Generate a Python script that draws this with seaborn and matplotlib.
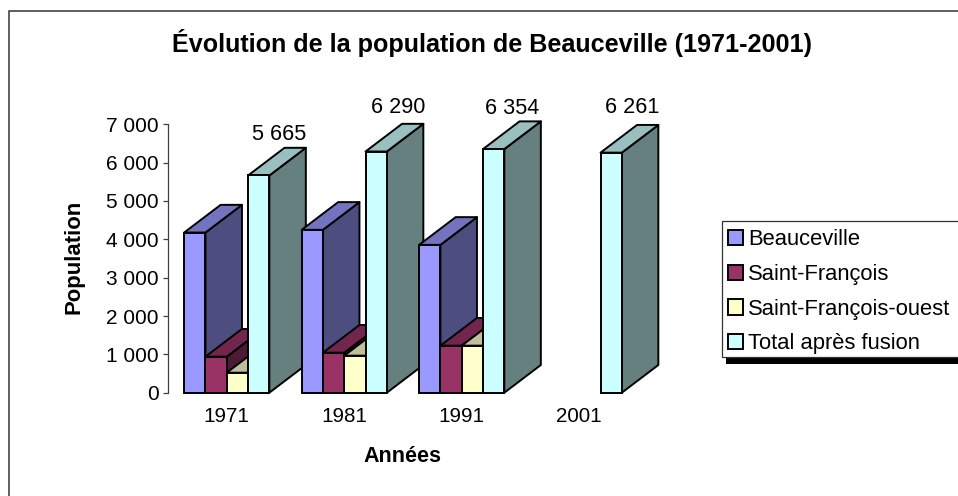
import matplotlib
matplotlib.use("Agg")
import matplotlib.pyplot as plt
from matplotlib.colors import to_rgb
from matplotlib.patches import Polygon, Rectangle
from matplotlib.ticker import FuncFormatter
import numpy as np
import pandas as pd
import seaborn as sns

# ========== DATA ==========
YEARS = ["1971", "1981", "1991", "2001"]
BEAUCEVILLE = [4177, 4248, 3856, np.nan]
SAINT_FRANCOIS = [940, 1044, 1227, np.nan]
SAINT_FRANCOIS_OUEST = [522, 966, 1227, np.nan]
TOTAL = [5665, 6290, 6354, 6261]
SERIES_NAMES = ["Beauceville", "Saint-François", "Saint-François-ouest", "Total après fusion"]
# ==========================

COLORS = ["#9999FF", "#993366", "#FFFFCC", "#CCFFFF"]
WIDTH, HEIGHT = 958, 496
DEPTH_PX = (36.5, 27.7)
# pixel offset of each total label from the top back of its bar
LABEL_OFFSETS = [(20, 13), (22, 16), (18, 13), (21, 17)]
EDGE_LW = 1.4


def shade(color, factor):
    return tuple(c * factor for c in to_rgb(color))


def px_box(left, top, right, bottom):
    """Figure-fraction [x, y, w, h] from pixel edges (y counted from the top)."""
    return [left / WIDTH, 1 - bottom / HEIGHT, (right - left) / WIDTH, (bottom - top) / HEIGHT]


sns.set_theme(style="white")
plt.rcParams["font.family"] = ["Liberation Sans", "DejaVu Sans"]
plt.rcParams["text.color"] = "black"

fig = plt.figure(figsize=(WIDTH / 100, HEIGHT / 100), dpi=100)
ax = fig.add_axes(px_box(168, 124.3, 638, 392.7))

# outer chart frame runs off the right and bottom of the picture
fig.add_artist(Rectangle((9 / WIDTH, -0.1), 1.1, 1.1 - 11 / HEIGHT, transform=fig.transFigure,
                         fill=False, edgecolor="#333333", linewidth=1.1))

df = pd.DataFrame({"year": YEARS, SERIES_NAMES[0]: BEAUCEVILLE, SERIES_NAMES[1]: SAINT_FRANCOIS,
                   SERIES_NAMES[2]: SAINT_FRANCOIS_OUEST, SERIES_NAMES[3]: TOTAL})
long_df = df.melt(id_vars="year", var_name="series", value_name="population")

sns.barplot(data=long_df, x="year", y="population", hue="series", order=YEARS,
            hue_order=SERIES_NAMES, palette=COLORS, saturation=1, width=0.725, gap=0,
            errorbar=None, edgecolor="black", linewidth=EDGE_LW, ax=ax, legend=False)

ax.set_xlim(-0.5, 3.5)
ax.set_ylim(0, 7000)
ax.set_yticks(range(0, 7001, 1000))
ax.yaxis.set_major_formatter(FuncFormatter(lambda v, _: f"{v:,.0f}".replace(",", " ")))

dx = DEPTH_PX[0] / (470 / 4)
dy = DEPTH_PX[1] / (268.4 / 7000)

# extrude every bar, painting left to right so nearer faces cover the sides
for s, container in enumerate(ax.containers):
    for g, bar in enumerate(container):
        h = bar.get_height()
        if np.isnan(h) or h == 0:
            bar.set_visible(False)
            continue
        x0, x1 = bar.get_x(), bar.get_x() + bar.get_width()
        z = 3 + (g * 4 + s) * 2
        color = COLORS[s]
        side = Polygon([(x1, 0), (x1 + dx, dy), (x1 + dx, h + dy), (x1, h)],
                       facecolor=shade(color, 0.5), edgecolor="black", linewidth=EDGE_LW,
                       clip_on=False, zorder=z, joinstyle="round")
        top = Polygon([(x0, h), (x0 + dx, h + dy), (x1 + dx, h + dy), (x1, h)],
                      facecolor=shade(color, 0.75), edgecolor="black", linewidth=EDGE_LW,
                      clip_on=False, zorder=z, joinstyle="round")
        ax.add_patch(side)
        ax.add_patch(top)
        bar.set_zorder(z + 1)
        bar.set_clip_on(False)

# value labels above the total bars
for bar, value, (ox, oy) in zip(ax.containers[3], TOTAL, LABEL_OFFSETS):
    ax.annotate(f"{value:,}".replace(",", " "),
                xy=(bar.get_x() + bar.get_width() / 2, value + dy),
                xytext=(ox * 0.72, oy * 0.72), textcoords="offset points",
                ha="center", va="center", fontsize=15.6, annotation_clip=False, zorder=60)

sns.despine(ax=ax, top=True, right=True, bottom=True)
ax.spines["left"].set_color("#404040")
ax.spines["left"].set_linewidth(0.9)
ax.tick_params(axis="y", length=3.6, width=0.9, color="#404040", labelsize=15, pad=3,
               labelcolor="black", left=True)
ax.tick_params(axis="x", length=0, labelsize=14.9, pad=10, labelcolor="black")

ax.set_xlabel("Années", fontsize=15.5, fontweight="bold", color="black")
ax.xaxis.set_label_coords((402.5 - 168) / 470, -(456 - 392.7) / 268.4)
ax.xaxis.label.set_va("center")
ax.set_ylabel("Population", fontsize=15.9, fontweight="bold", color="black")
ax.yaxis.set_label_coords((74 - 168) / 470, (392.7 - 256.5) / 268.4)
ax.yaxis.label.set_va("center")

fig.text(491.5 / WIDTH, 1 - 52 / HEIGHT, "Évolution de la population de Beauceville (1971-2001)",
         ha="center", va="baseline", fontsize=18.1, fontweight="bold")

# legend box with its hard shadow, both cut by the picture edge
fig.add_artist(Rectangle((726 / WIDTH, 1 - 364 / HEIGHT), 0.3, 8 / HEIGHT,
                         transform=fig.transFigure, facecolor="black", edgecolor="none"))
fig.add_artist(Rectangle((721.7 / WIDTH, 1 - 357.3 / HEIGHT), 0.3, 136.6 / HEIGHT,
                         transform=fig.transFigure, facecolor="white", edgecolor="#333333",
                         linewidth=0.9))
handles = [Rectangle((0, 0), 1, 1, facecolor=c, edgecolor="black", linewidth=EDGE_LW) for c in COLORS]
fig.legend(handles, SERIES_NAMES, loc="upper left", bbox_to_anchor=(721.7 / WIDTH, 1 - 222.7 / HEIGHT),
           frameon=False, fontsize=15.8, handlelength=0.68, handleheight=0.68, handletextpad=0.23,
           labelspacing=0.625, borderpad=0.3, borderaxespad=0, labelcolor="black")

fig.savefig("out.png", dpi=100)
